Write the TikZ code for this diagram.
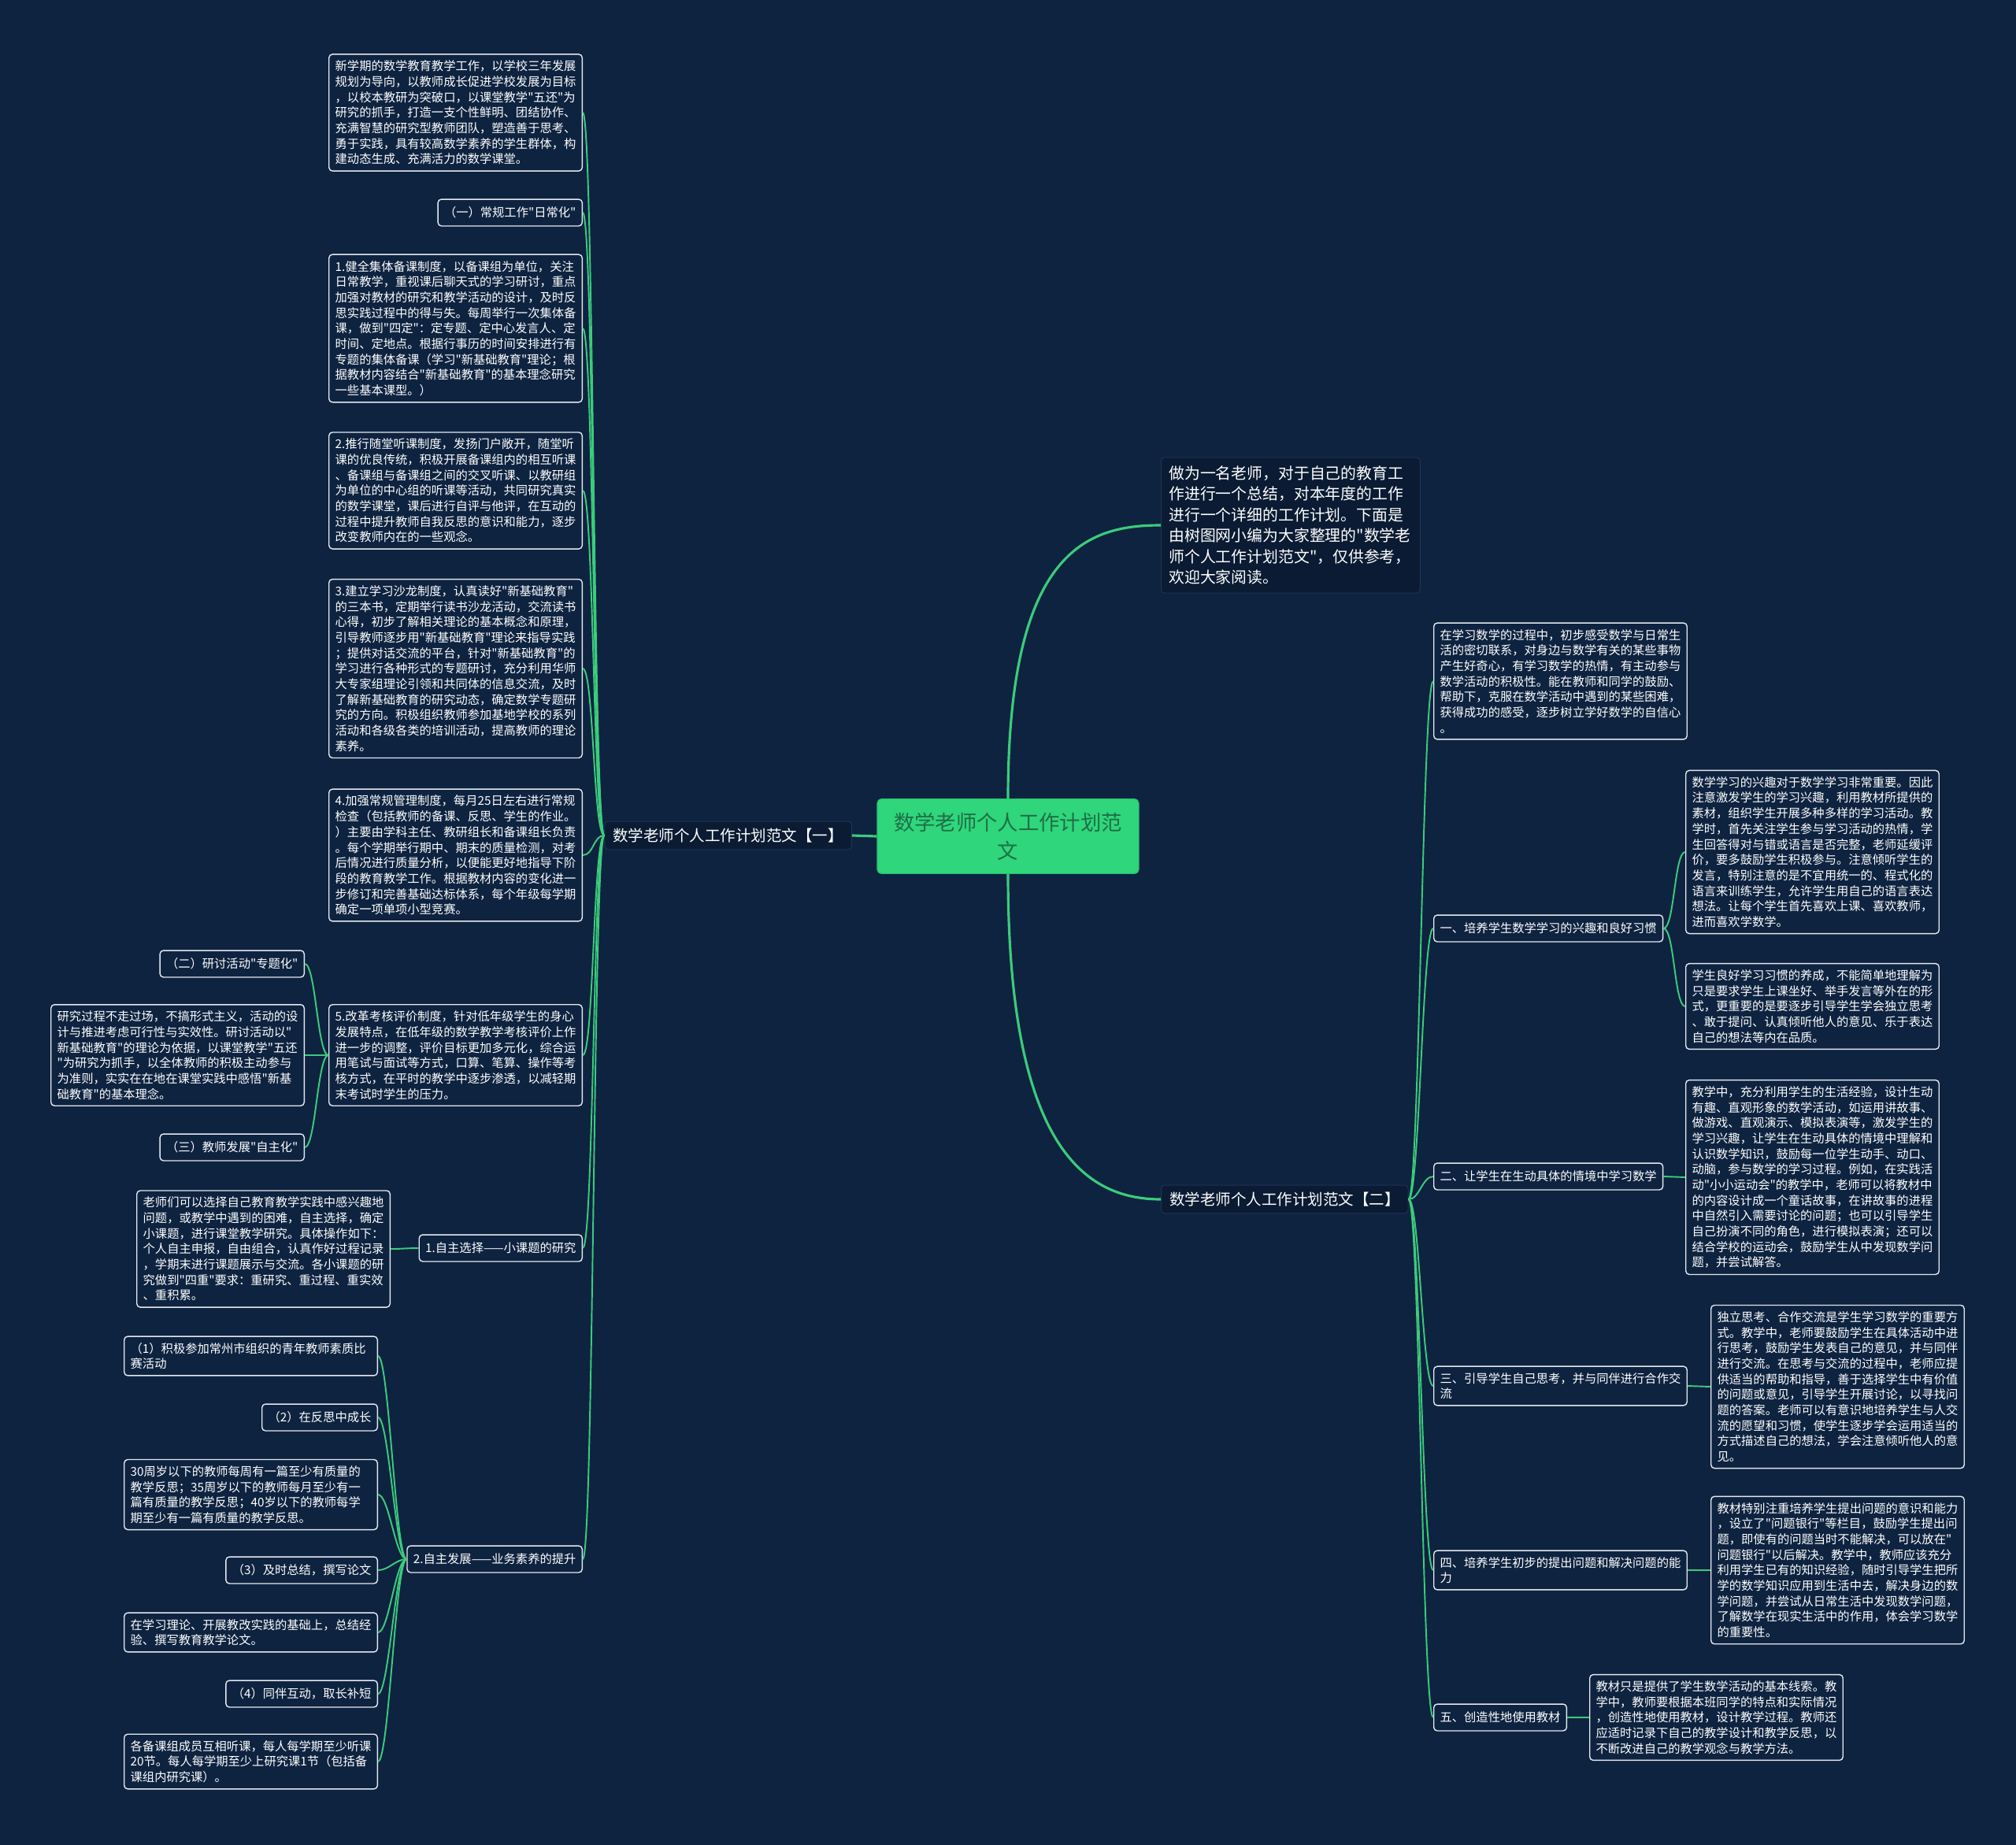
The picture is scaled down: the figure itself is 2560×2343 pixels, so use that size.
\documentclass[tikz,border=0pt]{standalone}
\usepackage{fontspec}
\newfontfamily\cjkfont{Noto Sans CJK SC}

\newcommand\leaffont{\cjkfont\fontsize{8.7}{11.2}\selectfont}
\newcommand\branchfont{\cjkfont\fontsize{11.1}{15}\selectfont}
\newcommand\introfont{\cjkfont\fontsize{11.3}{15.1}\selectfont}
\newcommand\rootfont{\cjkfont\fontsize{15}{20.4}\selectfont}

\begin{document}
\begin{tikzpicture}[x=0.02cm, y=-0.02cm,
    leafnode/.style={draw=leafBorder, line width=0.8pt, rounded corners=2.5pt, fill=bgColour,
        text=white, font=\leaffont, align=left, inner xsep=4.5pt, inner ysep=4.5pt},
    leafbox/.style={leafnode, text width=174pt},
    headnode/.style={leafnode, minimum height=19.3pt},
    branchnode/.style={draw=branchBorder, line width=0.6pt, rounded corners=2.5pt, fill=branchFill,
        text=white, font=\branchfont, inner xsep=6pt, minimum height=20.4pt},
    rootnode/.style={draw=rootBorder, line width=0.6pt, rounded corners=3pt, fill=rootFill,
        text=rootText, font=\rootfont, align=center, minimum width=189pt, minimum height=54pt},
    linkline/.style={draw=linkColour, line width=1.1pt},
    mainline/.style={draw=linkColour, line width=1.8pt}]

    % Define colours
    \definecolor{bgColour}{HTML}{0E2340}
    \definecolor{leafBorder}{HTML}{E4E9EF}
    \definecolor{branchFill}{HTML}{0A1B33}
    \definecolor{branchBorder}{HTML}{1D3454}
    \definecolor{rootFill}{HTML}{2FD67B}
    \definecolor{rootBorder}{HTML}{27C06D}
    \definecolor{rootText}{HTML}{1F6E47}
    \definecolor{linkColour}{HTML}{3CCB7C}

    % Background
    \fill[bgColour] (0,0) rectangle (2560,2343);
    \useasboundingbox (0,0) rectangle (2560,2343);

    % Centre and main branches
    \node[rootnode] (root) at (1280,1062) {数学老师个人工作计划范\\文};
    \node[branchnode, anchor=east] (b1) at (1082,1061) {数学老师个人工作计划范文【一】};
    \node[branchnode, anchor=west] (b2) at (1474,1523) {数学老师个人工作计划范文【二】};
    \node[branchnode, anchor=west, font=\introfont, align=left, text width=176pt, inner xsep=5.6pt, inner ysep=6pt] (intro) at (1474,667)
        {做为一名老师，对于自己的教育工\\作进行一个总结，对本年度的工作\\进行一个详细的工作计划。下面是\\由树图网小编为大家整理的"数学老\\师个人工作计划范文"，仅供参考，\\欢迎大家阅读。};

    % Left branch
    \node[leafbox, anchor=east] (t0) at (740,143)
        {新学期的数学教育教学工作，以学校三年发展\\规划为导向，以教师成长促进学校发展为目标\\，以校本教研为突破口，以课堂教学"五还"为\\研究的抓手，打造一支个性鲜明、团结协作、\\充满智慧的研究型教师团队，塑造善于思考、\\勇于实践，具有较高数学素养的学生群体，构\\建动态生成、充满活力的数学课堂。};
    \node[headnode, anchor=east] (regular) at (740,270) {（一）常规工作"日常化"};
    \node[leafbox, anchor=east] (i1) at (740,417)
        {1.健全集体备课制度，以备课组为单位，关注\\日常教学，重视课后聊天式的学习研讨，重点\\加强对教材的研究和教学活动的设计，及时反\\思实践过程中的得与失。每周举行一次集体备\\课，做到"四定"：定专题、定中心发言人、定\\时间、定地点。根据行事历的时间安排进行有\\专题的集体备课（学习"新基础教育"理论；根\\据教材内容结合"新基础教育"的基本理念研究\\一些基本课型。）};
    \node[leafbox, anchor=east] (i2) at (740,623)
        {2.推行随堂听课制度，发扬门户敞开，随堂听\\课的优良传统，积极开展备课组内的相互听课\\、备课组与备课组之间的交叉听课、以教研组\\为单位的中心组的听课等活动，共同研究真实\\的数学课堂，课后进行自评与他评，在互动的\\过程中提升教师自我反思的意识和能力，逐步\\改变教师内在的一些观念。};
    \node[leafbox, anchor=east] (i3) at (740,849)
        {3.建立学习沙龙制度，认真读好"新基础教育"\\的三本书，定期举行读书沙龙活动，交流读书\\心得，初步了解相关理论的基本概念和原理，\\引导教师逐步用"新基础教育"理论来指导实践\\；提供对话交流的平台，针对"新基础教育"的\\学习进行各种形式的专题研讨，充分利用华师\\大专家组理论引领和共同体的信息交流，及时\\了解新基础教育的研究动态，确定数学专题研\\究的方向。积极组织教师参加基地学校的系列\\活动和各级各类的培训活动，提高教师的理论\\素养。};
    \node[leafbox, anchor=east] (i4) at (740,1086)
        {4.加强常规管理制度，每月25日左右进行常规\\检查（包括教师的备课、反思、学生的作业。\\）主要由学科主任、教研组长和备课组长负责\\。每个学期举行期中、期末的质量检测，对考\\后情况进行质量分析，以便能更好地指导下阶\\段的教育教学工作。根据教材内容的变化进一\\步修订和完善基础达标体系，每个年级每学期\\确定一项单项小型竞赛。};
    \node[leafbox, anchor=east] (i5) at (740,1340)
        {5.改革考核评价制度，针对低年级学生的身心\\发展特点，在低年级的数学教学考核评价上作\\进一步的调整，评价目标更加多元化，综合运\\用笔试与面试等方式，口算、笔算、操作等考\\核方式，在平时的教学中逐步渗透，以减轻期\\末考试时学生的压力。};
    \node[headnode, anchor=east] (self1) at (740,1585) {1.自主选择——小课题的研究};
    \node[headnode, anchor=east] (self2) at (740,1980) {2.自主发展——业务素养的提升};

    % Children of item 5
    \node[headnode, anchor=east] (topic) at (387,1224) {（二）研讨活动"专题化"};
    \node[leafbox, anchor=east] (process) at (387,1340)
        {研究过程不走过场，不搞形式主义，活动的设\\计与推进考虑可行性与实效性。研讨活动以"\\新基础教育"的理论为依据，以课堂教学"五还\\"为研究为抓手，以全体教师的积极主动参与\\为准则，实实在在地在课堂实践中感悟"新基\\础教育"的基本理念。};
    \node[headnode, anchor=east] (develop) at (387,1457) {（三）教师发展"自主化"};

    % Children of self-selection
    \node[leafbox, anchor=east] (teachers) at (496,1586)
        {老师们可以选择自己教育教学实践中感兴趣地\\问题，或教学中遇到的困难，自主选择，确定\\小课题，进行课堂教学研究。具体操作如下：\\个人自主申报，自由组合，认真作好过程记录\\，学期末进行课题展示与交流。各小课题的研\\究做到"四重"要求：重研究、重过程、重实效\\、重积累。};

    % Children of self-development
    \node[leafbox, anchor=east] (c1) at (480,1722) {（1）积极参加常州市组织的青年教师素质比\\赛活动};
    \node[headnode, anchor=east] (c2) at (480,1800) {（2）在反思中成长};
    \node[leafbox, anchor=east] (c3) at (480,1898)
        {30周岁以下的教师每周有一篇至少有质量的\\教学反思；35周岁以下的教师每月至少有一\\篇有质量的教学反思；40岁以下的教师每学\\期至少有一篇有质量的教学反思。};
    \node[headnode, anchor=east] (c4) at (480,1994) {（3）及时总结，撰写论文};
    \node[leafbox, anchor=east] (c5) at (480,2073) {在学习理论、开展教改实践的基础上，总结经\\验、撰写教育教学论文。};
    \node[headnode, anchor=east] (c6) at (480,2151) {（4）同伴互动，取长补短};
    \node[leafbox, anchor=east] (c7) at (480,2237)
        {各备课组成员互相听课，每人每学期至少听课\\20节。每人每学期至少上研究课1节（包括备\\课组内研究课）。};

    % Right branch
    \node[leafbox, anchor=west] (learn) at (1820,865)
        {在学习数学的过程中，初步感受数学与日常生\\活的密切联系，对身边与数学有关的某些事物\\产生好奇心，有学习数学的热情，有主动参与\\数学活动的积极性。能在教师和同学的鼓励、\\帮助下，克服在数学活动中遇到的某些困难，\\获得成功的感受，逐步树立学好数学的自信心\\。};
    \node[headnode, anchor=west] (s1) at (1820,1179) {一、培养学生数学学习的兴趣和良好习惯};
    \node[headnode, anchor=west] (s2) at (1820,1494) {二、让学生在生动具体的情境中学习数学};
    \node[leafbox, anchor=west] (s3) at (1820,1760) {三、引导学生自己思考，并与同伴进行合作交\\流};
    \node[leafbox, anchor=west] (s4) at (1820,1994) {四、培养学生初步的提出问题和解决问题的能\\力};
    \node[headnode, anchor=west] (s5) at (1820,2181) {五、创造性地使用教材};

    \node[leafbox, anchor=west] (s1a) at (2140,1082)
        {数学学习的兴趣对于数学学习非常重要。因此\\注意激发学生的学习兴趣，利用教材所提供的\\素材，组织学生开展多种多样的学习活动。教\\学时，首先关注学生参与学习活动的热情，学\\生回答得对与错或语言是否完整，老师延缓评\\价，要多鼓励学生积极参与。注意倾听学生的\\发言，特别注意的是不宜用统一的、程式化的\\语言来训练学生，允许学生用自己的语言表达\\想法。让每个学生首先喜欢上课、喜欢教师，\\进而喜欢学数学。};
    \node[leafbox, anchor=west] (s1b) at (2140,1278)
        {学生良好学习习惯的养成，不能简单地理解为\\只是要求学生上课坐好、举手发言等外在的形\\式，更重要的是要逐步引导学生学会独立思考\\、敢于提问、认真倾听他人的意见、乐于表达\\自己的想法等内在品质。};
    \node[leafbox, anchor=west] (s2a) at (2140,1495)
        {教学中，充分利用学生的生活经验，设计生动\\有趣、直观形象的数学活动，如运用讲故事、\\做游戏、直观演示、模拟表演等，激发学生的\\学习兴趣，让学生在生动具体的情境中理解和\\认识数学知识，鼓励每一位学生动手、动口、\\动脑，参与数学的学习过程。例如，在实践活\\动"小小运动会"的教学中，老师可以将教材中\\的内容设计成一个童话故事，在讲故事的进程\\中自然引入需要讨论的问题；也可以引导学生\\自己扮演不同的角色，进行模拟表演；还可以\\结合学校的运动会，鼓励学生从中发现数学问\\题，并尝试解答。};
    \node[leafbox, anchor=west] (s3a) at (2172,1761)
        {独立思考、合作交流是学生学习数学的重要方\\式。教学中，老师要鼓励学生在具体活动中进\\行思考，鼓励学生发表自己的意见，并与同伴\\进行交流。在思考与交流的过程中，老师应提\\供适当的帮助和指导，善于选择学生中有价值\\的问题或意见，引导学生开展讨论，以寻找问\\题的答案。老师可以有意识地培养学生与人交\\流的愿望和习惯，使学生逐步学会运用适当的\\方式描述自己的想法，学会注意倾听他人的意\\见。};
    \node[leafbox, anchor=west] (s4a) at (2172,1994)
        {教材特别注重培养学生提出问题的意识和能力\\，设立了"问题银行"等栏目，鼓励学生提出问\\题，即使有的问题当时不能解决，可以放在"\\问题银行"以后解决。教学中，教师应该充分\\利用学生已有的知识经验，随时引导学生把所\\学的数学知识应用到生活中去，解决身边的数\\学问题，并尝试从日常生活中发现数学问题，\\了解数学在现实生活中的作用，体会学习数学\\的重要性。};
    \node[leafbox, anchor=west] (s5a) at (2018,2181)
        {教材只是提供了学生数学活动的基本线索。教\\学中，教师要根据本班同学的特点和实际情况\\，创造性地使用教材，设计教学过程。教师还\\应适时记录下自己的教学设计和教学反思，以\\不断改进自己的教学观念与教学方法。};

    % Draw connectors from the centre
    \draw[mainline] (root.west) -- (b1.east);
    \draw[mainline] (root.north) .. controls +(0,-315) and +(-94,0) .. (intro.west);
    \draw[mainline] (root.south) .. controls +(0,350) and +(-94,0) .. (b2.west);

    % Draw connectors on the left
    \foreach \n in {t0,regular,i1,i2,i3,i4,i5,self1,self2}
        \draw[linkline] (b1.west) .. controls +(-14,0) and +(14,0) .. (\n.east);
    \foreach \a/\b in {i5/topic,i5/process,i5/develop,self1/teachers,
                       self2/c1,self2/c2,self2/c3,self2/c4,self2/c5,self2/c6,self2/c7}
        \draw[linkline] (\a.west) .. controls +(-14,0) and +(14,0) .. (\b.east);

    % Draw connectors on the right
    \foreach \n in {learn,s1,s2,s3,s4,s5}
        \draw[linkline] (b2.east) .. controls +(14,0) and +(-14,0) .. (\n.west);
    \foreach \a/\b in {s1/s1a,s1/s1b,s2/s2a,s3/s3a,s4/s4a,s5/s5a}
        \draw[linkline] (\a.east) .. controls +(14,0) and +(-14,0) .. (\b.west);

\end{tikzpicture}
\end{document}
